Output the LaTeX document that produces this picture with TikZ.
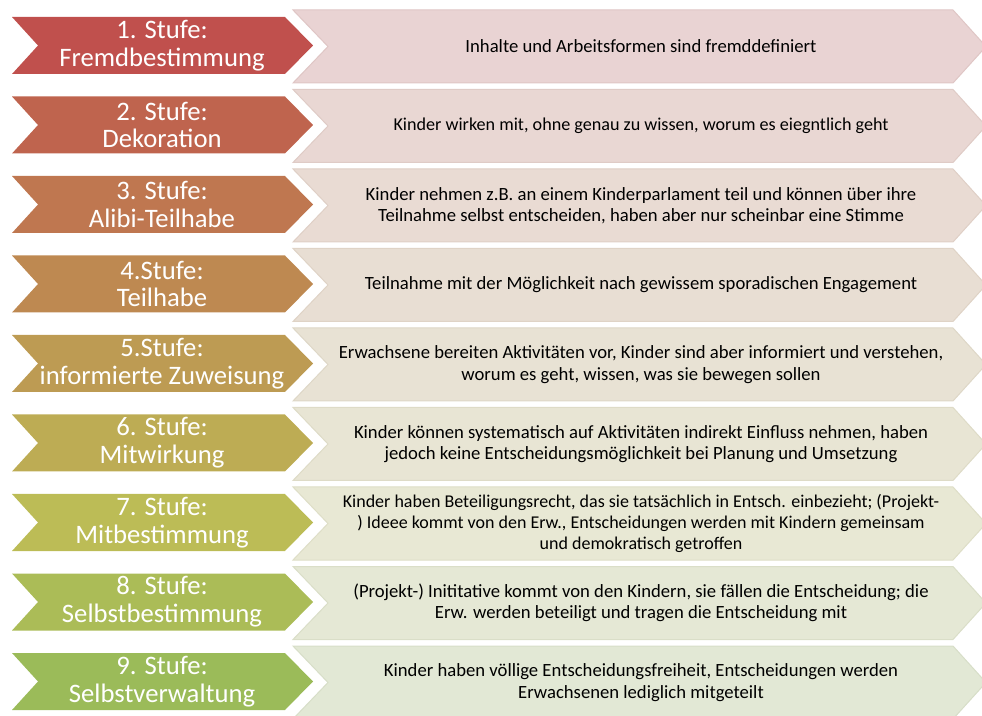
\documentclass[tikz,border=0pt]{standalone}
\usepackage{fontspec}
\setmainfont{Carlito}
\definecolor{c1}{RGB}{192,80,77}
\definecolor{c2}{RGB}{191,100,78}
\definecolor{c3}{RGB}{191,119,80}
\definecolor{c4}{RGB}{190,137,81}
\definecolor{c5}{RGB}{189,155,83}
\definecolor{c6}{RGB}{189,172,84}
\definecolor{c7}{RGB}{188,188,86}
\definecolor{c8}{RGB}{171,188,87}
\definecolor{c9}{RGB}{155,187,89}
\tikzset{
  stagearrow/.style={fill=#1, draw=none},
  descbox/.style={fill=#1!20!white!96!black, draw=#1!24!white!93!black, line width=0.75pt, line join=miter},
  stagetext/.style={text=white, font=\fontsize{20}{20.8}\selectfont, align=center, inner sep=0pt},
  desctext/.style={text=black, font=\fontsize{#1}{16}\selectfont, align=center, inner sep=0pt},
}
\newcommand\drawstufe[4]{%
  \pgfmathsetmacro\lTop{17+79.5*(#1-1)}%
  \pgfmathsetmacro\lMid{\lTop+28.5}%
  \pgfmathsetmacro\lBot{\lTop+57}%
  \pgfmathsetmacro\rTop{10+79.5*(#1-1)}%
  \pgfmathsetmacro\rMid{\rTop+36.5}%
  \pgfmathsetmacro\rBot{\rTop+73}%
  \path[descbox=c#1] (293,\rTop) -- (953,\rTop) -- (986,\rMid) -- (953,\rBot) -- (293,\rBot) -- (328,\rMid) -- cycle;
  \path[stagearrow=c#1] (12,\lTop) -- (285,\lTop) -- (313,\lMid) -- (285,\lBot) -- (12,\lBot) -- (38,\lMid) -- cycle;
  \node[stagetext] (L#1) at (162,\lMid) {#2};
  \node[desctext=#4] (R#1) at (641,\rMid) {#3};
}
\begin{document}
\begin{tikzpicture}[x=0.75pt,y=-0.75pt]
\useasboundingbox (0,0) rectangle (982,716);
\drawstufe{1}{1. Stufe:\\Fremdbestimmung}{Inhalte und Arbeitsformen sind fremddefiniert}{14}
\drawstufe{2}{2. Stufe:\\Dekoration}{Kinder wirken mit, ohne genau zu wissen, worum es eiegntlich geht}{13.6}
\drawstufe{3}{3. Stufe:\\Alibi-Teilhabe}{Kinder nehmen z.B. an einem Kinderparlament teil und können über ihre\\Teilnahme selbst entscheiden, haben aber nur scheinbar eine Stimme}{14}
\drawstufe{4}{4.Stufe:\\Teilhabe}{Teilnahme mit der Möglichkeit nach gewissem sporadischen Engagement}{14}
\drawstufe{5}{5.Stufe:\\informierte Zuweisung}{Erwachsene bereiten Aktivitäten vor, Kinder sind aber informiert und verstehen,\\worum es geht, wissen, was sie bewegen sollen}{14}
\drawstufe{6}{6. Stufe:\\Mitwirkung}{Kinder können systematisch auf Aktivitäten indirekt Einfluss nehmen, haben\\jedoch keine Entscheidungsmöglichkeit bei Planung und Umsetzung}{14}
\drawstufe{7}{7. Stufe:\\Mitbestimmung}{Kinder haben Beteiligungsrecht, das sie tatsächlich in Entsch. einbezieht; (Projekt-\\) Ideee kommt von den Erw., Entscheidungen werden mit Kindern gemeinsam\\und demokratisch getroffen}{13.5}
\drawstufe{8}{8. Stufe:\\Selbstbestimmung}{(Projekt-) Inititative kommt von den Kindern, sie fällen die Entscheidung; die\\Erw. werden beteiligt und tragen die Entscheidung mit}{14}
\drawstufe{9}{9. Stufe:\\Selbstverwaltung}{Kinder haben völlige Entscheidungsfreiheit, Entscheidungen werden\\Erwachsenen lediglich mitgeteilt}{14}
\end{tikzpicture}
\end{document}
